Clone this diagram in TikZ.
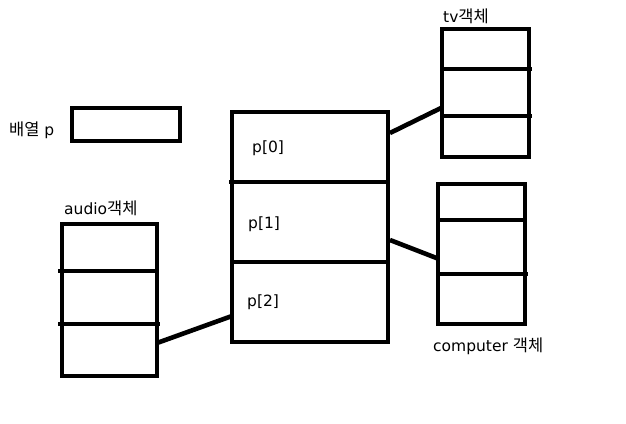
\documentclass[tikz,border=0pt]{standalone}
\usepackage{fontspec}
\setmainfont{DejaVu Sans}
\newfontfamily\krfont{Noto Sans CJK KR}
\newcommand{\kr}[1]{{\krfont\fontsize{16.5}{18}\selectfont #1}}
\begin{document}
\begin{tikzpicture}[x=1pt,y=-1pt,
  box/.style={draw=black, line width=4.6pt, inner sep=0pt, minimum width=#1},
  lbl/.style={anchor=base west, inner sep=0pt, font=\fontsize{15.5}{18}\selectfont},
  ln/.style={line width=4.6pt}]
\useasboundingbox (0,0) rectangle (626,423);
\fill[white] (0,0) rectangle (626,423);
% array p
\node[box=108pt, minimum height=33pt] (arr) at (126,124.5) {};
\node[lbl] (arrl) at (9,135) {\kr{배열} p};
% main array box
\node[box=156pt, minimum height=230pt] (main) at (310,227) {};
\draw[ln] (229,182) -- (388,182);
\draw[ln] (232,262) -- (388,262);
\node[lbl] (p0) at (252,152) {p[0]};
\node[lbl] (p1) at (248,228) {p[1]};
\node[lbl] (p2) at (247,306) {p[2]};
% tv object
\node[box=87pt, minimum height=128pt] (tv) at (485.5,93) {};
\draw[ln] (442,69) -- (532,69);
\draw[ln] (442,116) -- (532,116);
\node[lbl] (tvl) at (443,22) {tv\kr{객체}};
% computer object
\node[box=87pt, minimum height=140pt] (comp) at (481.5,254) {};
\draw[ln] (438,220) -- (525,220);
\draw[ln] (438,274) -- (528,274);
\node[lbl] (compl) at (433,351) {computer \kr{객체}};
% audio object
\node[box=95pt, minimum height=152pt] (audio) at (109.5,300) {};
\draw[ln] (58,271) -- (157,271);
\draw[ln] (58,324) -- (160,324);
\node[lbl] (audiol) at (64,214) {audio\kr{객체}};
% connectors
\coordinate (m0) at (390,133);
\coordinate (tvin) at (441,108);
\coordinate (m1) at (390,240);
\coordinate (compin) at (439,259);
\coordinate (audout) at (157,343);
\coordinate (m2) at (232,316);
\draw[ln] (m0) -- (tvin);
\draw[ln] (m1) -- (compin);
\draw[ln] (audout) -- (m2);
\end{tikzpicture}
\end{document}
